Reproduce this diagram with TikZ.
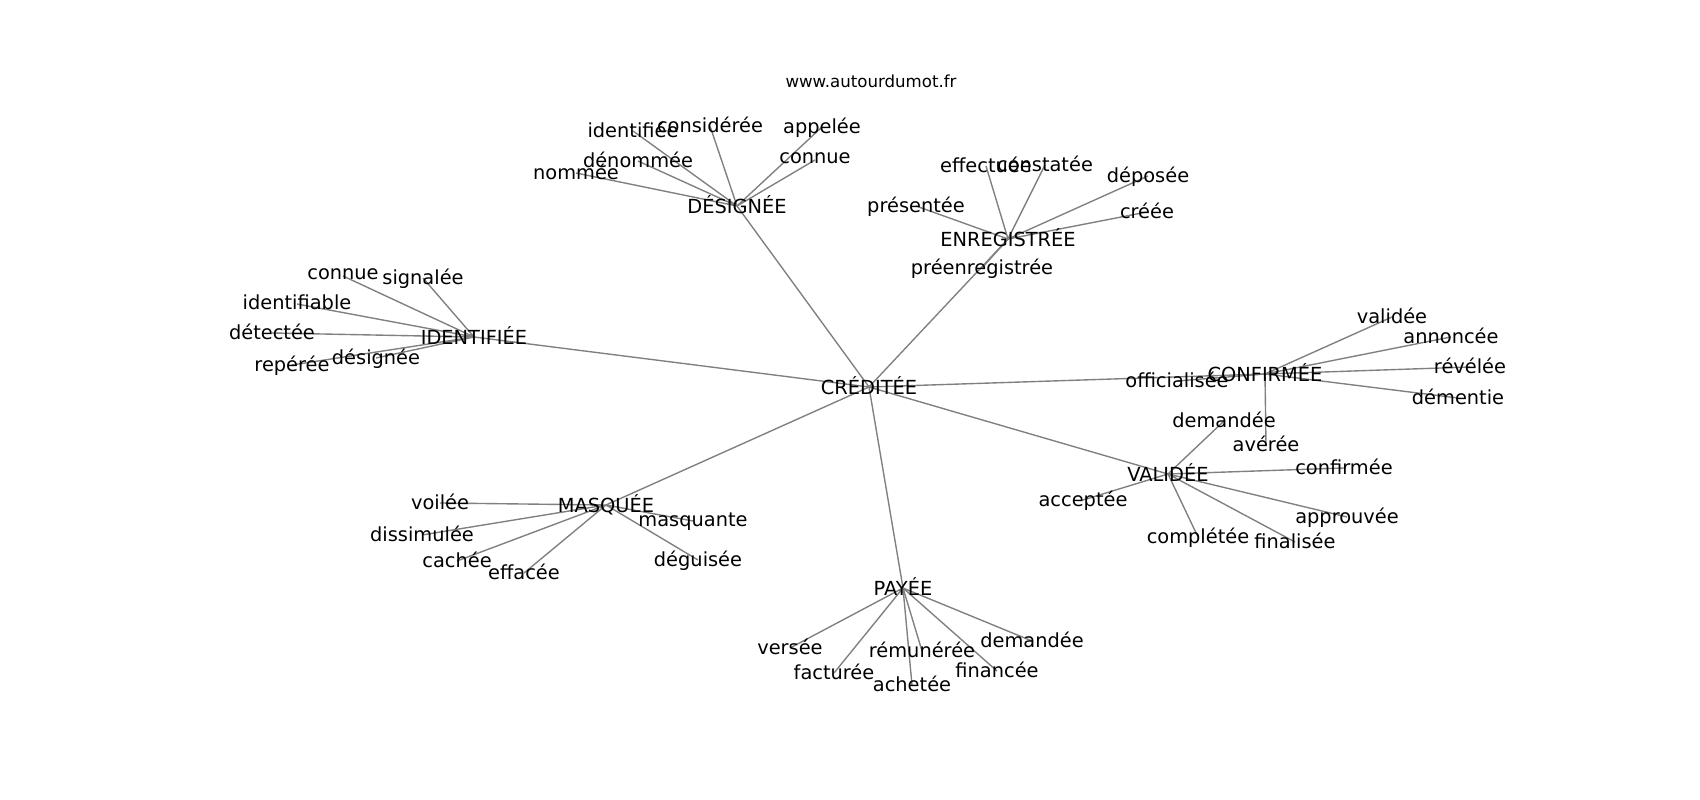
\documentclass[tikz,border=0pt]{standalone}
\usepackage{fontspec}
\setmainfont{DejaVu Sans}
\usepackage{tikz}
\usetikzlibrary{backgrounds}
\tikzset{
    mot/.style={inner sep=0pt, text depth=0.21em, font=\fontsize{14}{17}\selectfont},
    lien/.style={draw=gray, line width=1pt},
}

\begin{document}
\begin{tikzpicture}[x=0.01in, y=-0.01in]
    \useasboundingbox (0,0) rectangle (1700,800);
    \node[anchor=base, inner sep=0pt, font=\fontsize{12}{14}\selectfont] (titre) at (871,88) {www.autourdumot.fr};
    \node[mot] (cre) at (869,387) {CRÉDITÉE};
    \node[mot] (des) at (737,206) {DÉSIGNÉE};
    \node[mot] (enr) at (1008,239) {ENREGISTRÉE};
    \node[mot] (ide) at (474,337) {IDENTIFIÉE};
    \node[mot] (con) at (1265,374) {CONFIRMÉE};
    \node[mot] (val) at (1168,474) {VALIDÉE};
    \node[mot] (mas) at (606,505) {MASQUÉE};
    \node[mot] (pay) at (903,588) {PAYÉE};
    \node[mot] (des-nommee) at (576,173) {nommée};
    \node[mot] (des-denommee) at (638,161) {dénommée};
    \node[mot] (des-identifiee) at (633,131) {identifiée};
    \node[mot] (des-consideree) at (710,126) {considérée};
    \node[mot] (des-appelee) at (822,127) {appelée};
    \node[mot] (des-connue) at (815,160) {connue};
    \node[mot] (enr-presentee) at (916,206) {présentée};
    \node[mot] (enr-effectuee) at (986,166) {effectuée};
    \node[mot] (enr-constatee) at (1045,165) {constatée};
    \node[mot] (enr-deposee) at (1148,176) {déposée};
    \node[mot] (enr-creee) at (1147,212) {créée};
    \node[mot] (enr-preenregistree) at (982,268) {préenregistrée};
    \node[mot] (ide-connue) at (343,276) {connue};
    \node[mot] (ide-signalee) at (423,278) {signalée};
    \node[mot] (ide-identifiable) at (297,304) {identifiable};
    \node[mot] (ide-detectee) at (272,333) {détectée};
    \node[mot] (ide-reperee) at (292,365) {repérée};
    \node[mot] (ide-designee) at (376,358) {désignée};
    \node[mot] (con-validee) at (1392,317) {validée};
    \node[mot] (con-annoncee) at (1451,337) {annoncée};
    \node[mot] (con-revelee) at (1470,367) {révélée};
    \node[mot] (con-dementie) at (1458,398) {démentie};
    \node[mot] (con-officialisee) at (1177,381) {officialisée};
    \node[mot] (con-averee) at (1266,445) {avérée};
    \node[mot] (val-demandee) at (1224,421) {demandée};
    \node[mot] (val-acceptee) at (1083,500) {acceptée};
    \node[mot] (val-confirmee) at (1344,468) {confirmée};
    \node[mot] (val-approuvee) at (1347,517) {approuvée};
    \node[mot] (val-completee) at (1198,537) {complétée};
    \node[mot] (val-finalisee) at (1295,542) {finalisée};
    \node[mot] (mas-voilee) at (440,503) {voilée};
    \node[mot] (mas-dissimulee) at (422,535) {dissimulée};
    \node[mot] (mas-cachee) at (457,561) {cachée};
    \node[mot] (mas-effacee) at (524,573) {effacée};
    \node[mot] (mas-masquante) at (693,521) {masquante};
    \node[mot] (mas-deguisee) at (698,560) {déguisée};
    \node[mot] (pay-versee) at (790,648) {versée};
    \node[mot] (pay-facturee) at (834,673) {facturée};
    \node[mot] (pay-achetee) at (912,685) {achetée};
    \node[mot] (pay-remuneree) at (922,651) {rémunérée};
    \node[mot] (pay-financee) at (997,671) {financée};
    \node[mot] (pay-demandee) at (1032,641) {demandée};
    \begin{scope}[on background layer]
    \draw[lien] (cre.center)--(des.center) (cre.center)--(enr.center) (cre.center)--(ide.center) (cre.center)--(con.center);
    \draw[lien] (cre.center)--(val.center) (cre.center)--(mas.center) (cre.center)--(pay.center);
    \draw[lien] (des.center)--(des-nommee.center) (des.center)--(des-denommee.center) (des.center)--(des-identifiee.center);
    \draw[lien] (des.center)--(des-consideree.center) (des.center)--(des-appelee.center) (des.center)--(des-connue.center);
    \draw[lien] (enr.center)--(enr-presentee.center) (enr.center)--(enr-effectuee.center) (enr.center)--(enr-constatee.center);
    \draw[lien] (enr.center)--(enr-deposee.center) (enr.center)--(enr-creee.center) (enr.center)--(enr-preenregistree.center);
    \draw[lien] (ide.center)--(ide-connue.center) (ide.center)--(ide-signalee.center) (ide.center)--(ide-identifiable.center);
    \draw[lien] (ide.center)--(ide-detectee.center) (ide.center)--(ide-reperee.center) (ide.center)--(ide-designee.center);
    \draw[lien] (con.center)--(con-validee.center) (con.center)--(con-annoncee.center) (con.center)--(con-revelee.center);
    \draw[lien] (con.center)--(con-dementie.center) (con.center)--(con-officialisee.center) (con.center)--(con-averee.center);
    \draw[lien] (val.center)--(val-demandee.center) (val.center)--(val-acceptee.center) (val.center)--(val-confirmee.center);
    \draw[lien] (val.center)--(val-approuvee.center) (val.center)--(val-completee.center) (val.center)--(val-finalisee.center);
    \draw[lien] (mas.center)--(mas-voilee.center) (mas.center)--(mas-dissimulee.center) (mas.center)--(mas-cachee.center);
    \draw[lien] (mas.center)--(mas-effacee.center) (mas.center)--(mas-masquante.center) (mas.center)--(mas-deguisee.center);
    \draw[lien] (pay.center)--(pay-versee.center) (pay.center)--(pay-facturee.center) (pay.center)--(pay-achetee.center);
    \draw[lien] (pay.center)--(pay-remuneree.center) (pay.center)--(pay-financee.center) (pay.center)--(pay-demandee.center);
    \end{scope}
\end{tikzpicture}
\end{document}
